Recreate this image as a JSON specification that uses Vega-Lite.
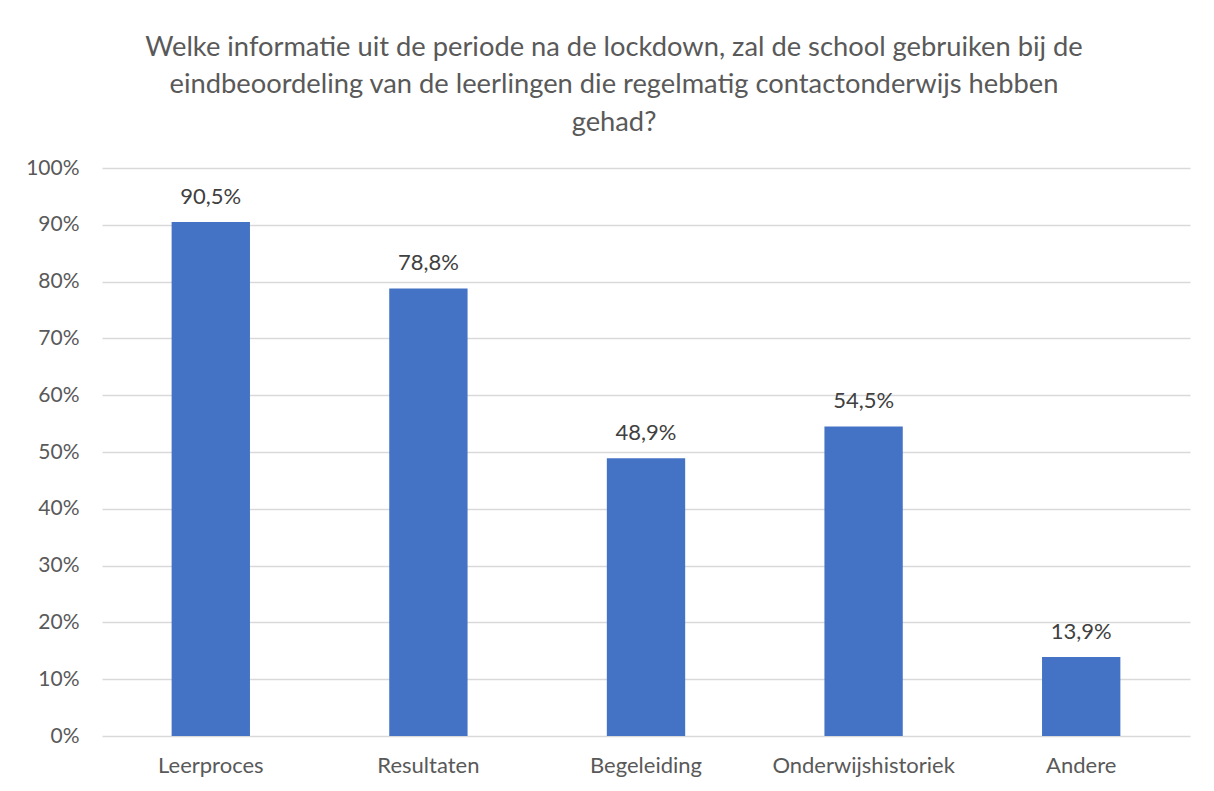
{
  "$schema": "https://vega.github.io/schema/vega-lite/v6.json",
  "width": 1088,
  "height": 568,
  "autosize": {"type": "none"},
  "padding": {"left": 102, "top": 168, "right": 24, "bottom": 55},
  "background": "white",
  "title": {
    "text": ["Welke informatie uit de periode na de lockdown, zal de school gebruiken bij de", "eindbeoordeling van de leerlingen die regelmatig contactonderwijs hebben", "gehad?"],
    "font": "Lato",
    "fontSize": 27.3,
    "fontWeight": "normal",
    "color": "#595959",
    "lineHeight": 37.5,
    "anchor": "middle",
    "offset": 21,
    "dx": -32
  },
  "data": {
    "values": [
      {"categorie": "Leerproces", "waarde": 0.905},
      {"categorie": "Resultaten", "waarde": 0.788},
      {"categorie": "Begeleiding", "waarde": 0.489},
      {"categorie": "Onderwijshistoriek", "waarde": 0.545},
      {"categorie": "Andere", "waarde": 0.139}
    ]
  },
  "encoding": {
    "x": {
      "field": "categorie",
      "type": "nominal",
      "sort": null,
      "scale": {"paddingInner": 0.64, "paddingOuter": 0.32},
      "axis": {
        "title": null,
        "labelAngle": 0,
        "ticks": false,
        "domain": false,
        "grid": false,
        "labelFont": "Lato",
        "labelFontSize": 22,
        "labelColor": "#595959",
        "labelPadding": 19,
        "labelLimit": 400
      }
    },
    "y": {
      "field": "waarde",
      "type": "quantitative",
      "scale": {"domain": [0, 1], "nice": false},
      "axis": {
        "title": null,
        "format": ".0%",
        "values": [0, 0.1, 0.2, 0.3, 0.4, 0.5, 0.6, 0.7, 0.8, 0.9, 1],
        "ticks": false,
        "domain": false,
        "grid": true,
        "gridColor": "#D9D9D9",
        "gridWidth": 1.5,
        "labelFont": "Lato",
        "labelFontSize": 21,
        "labelColor": "#595959",
        "labelPadding": 23
      }
    }
  },
  "layer": [
    {"mark": {"type": "bar", "color": "#4472C4"}},
    {
      "mark": {"type": "text", "font": "Lato", "fontSize": 22, "color": "#404040", "baseline": "alphabetic", "dy": -18},
      "encoding": {"text": {"field": "waarde", "type": "quantitative", "format": ".1%"}}
    }
  ],
  "config": {
    "view": {"stroke": null},
    "locale": {
      "number": {"decimal": ",", "thousands": ".", "grouping": [3], "currency": ["€", ""]}
    }
  }
}
